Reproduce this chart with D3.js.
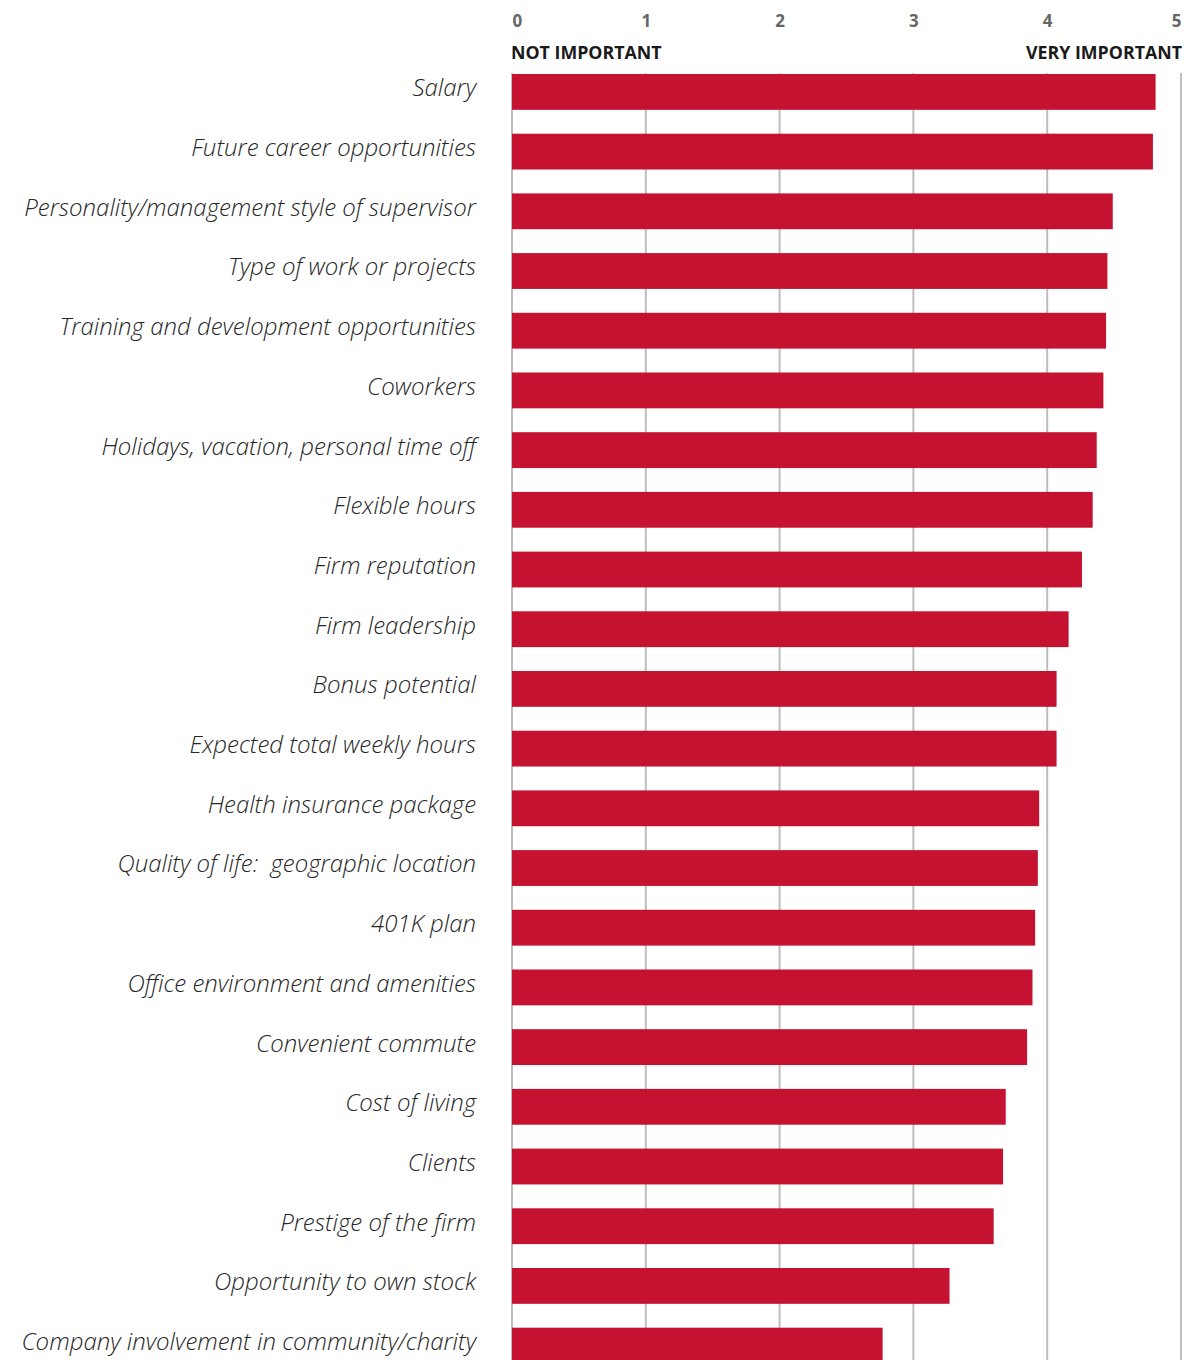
<!DOCTYPE html>
<html>
<head>
<meta charset="utf-8">
<script src="https://cdn.jsdelivr.net/npm/d3@7"></script>
<style>
  html, body { margin: 0; padding: 0; background: #fff; }
  svg { display: block; }
</style>
</head>
<body>
<div id="chart"></div>
<script>
// Job factors, ordered as listed (most important first)
const factors = [
  "Salary",
  "Future career opportunities",
  "Personality/management style of supervisor",
  "Type of work or projects",
  "Training and development opportunities",
  "Coworkers",
  "Holidays, vacation, personal time off",
  "Flexible hours",
  "Firm reputation",
  "Firm leadership",
  "Bonus potential",
  "Expected total weekly hours",
  "Health insurance package",
  "Quality of life:  geographic location",
  "401K plan",
  "Office environment and amenities",
  "Convenient commute",
  "Cost of living",
  "Clients",
  "Prestige of the firm",
  "Opportunity to own stock",
  "Company involvement in community/charity"
];

// Average importance rating (0 = not important, 5 = very important)
const ratings = [
  4.81, 4.79, 4.49, 4.45, 4.44, 4.42, 4.37, 4.34, 4.26, 4.16, 4.07,
  4.07, 3.94, 3.93, 3.91, 3.89, 3.85, 3.69, 3.67, 3.60, 3.27, 2.77
];

const tickValues = [0, 1, 2, 3, 4, 5];
const scaleEnds = ["NOT IMPORTANT", "VERY IMPORTANT"];

const width = 1193, height = 1360;
const x0 = 512, x1 = 1181;
const rowTop = 74, rowPitch = 59.7;

const svg = d3.select("#chart").append("svg")
  .attr("width", width).attr("height", height);

const x = d3.scaleLinear().domain([0, 5]).range([x0, x1]);

const y = d3.scaleBand()
  .domain(factors)
  .range([rowTop - rowPitch * 0.2, rowTop - rowPitch * 0.2 + rowPitch * factors.length])
  .paddingInner(0.4)
  .paddingOuter(0.2);

// Vertical grid lines
svg.append("g")
  .selectAll("line")
  .data(tickValues)
  .join("line")
  .attr("x1", d => x(d)).attr("x2", d => x(d))
  .attr("y1", 73).attr("y2", height)
  .attr("stroke", "#bdbdbd")
  .attr("stroke-width", 2);

// Bars
svg.append("g")
  .selectAll("rect")
  .data(factors)
  .join("rect")
  .attr("x", x(0))
  .attr("y", d => y(d))
  .attr("width", (d, i) => x(ratings[i]) - x(0))
  .attr("height", y.bandwidth())
  .attr("fill", "#c41230");

// Category labels
svg.append("g")
  .selectAll("text")
  .data(factors)
  .join("text")
  .attr("x", 476)
  .attr("y", d => y(d) + y.bandwidth() / 2 - 2)
  .attr("text-anchor", "end")
  .attr("dominant-baseline", "middle")
  .attr("font-family", "'Open Sans', sans-serif")
  .attr("font-style", "italic")
  .attr("font-weight", 300)
  .attr("font-size", 24)
  .attr("fill", "#262626")
  .style("white-space", "pre")
  .text(d => d);

// Top axis numbers
const axis = d3.axisTop(x).tickValues(tickValues).tickFormat(d3.format("d"))
  .tickSize(0).tickPadding(0);
const axisG = svg.append("g").attr("transform", "translate(0,27)").call(axis);
axisG.select(".domain").remove();
axisG.selectAll("text")
  .attr("font-family", "'Open Sans', sans-serif")
  .attr("font-weight", 700)
  .attr("font-size", 17)
  .attr("fill", "#666")
  .attr("text-anchor", (d, i) => i === 0 ? "start" : (i === tickValues.length - 1 ? "end" : "middle"))
  .attr("dx", (d, i) => i === 0 ? 0 : 0);

// Scale end labels
svg.append("text")
  .attr("x", 511).attr("y", 59)
  .attr("font-family", "'Open Sans', sans-serif")
  .attr("font-weight", 700)
  .attr("font-size", 17.8)
  .attr("fill", "#1a1a1a")
  .text(scaleEnds[0]);

svg.append("text")
  .attr("x", 1182).attr("y", 59)
  .attr("text-anchor", "end")
  .attr("font-family", "'Open Sans', sans-serif")
  .attr("font-weight", 700)
  .attr("font-size", 17.8)
  .attr("fill", "#1a1a1a")
  .text(scaleEnds[1]);
</script>
</body>
</html>
